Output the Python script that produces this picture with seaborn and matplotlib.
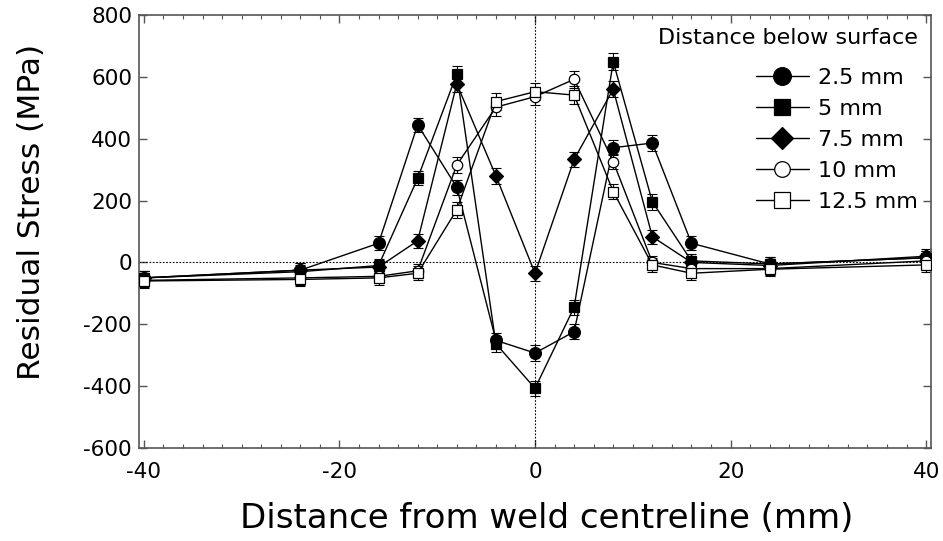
import numpy as np
import pandas as pd
import matplotlib
matplotlib.use("Agg")
import matplotlib.pyplot as plt
from matplotlib.ticker import MultipleLocator
import seaborn as sns

# Measurement positions across the weld (mm from centreline)
positions = [-40, -24, -16, -12, -8, -4, 0, 4, 8, 12, 16, 24, 40]

# Residual stress (MPa) at each depth below the surface
stress_2p5 = [-50, -25, 62, 445, 243, -252, -293, -224, 371, 386, 62, -5, 15]
stress_5 = [-50, -30, -10, 272, 609, -263, -407, -145, 649, 196, 5, -5, 15]
stress_7p5 = [-50, -25, -15, 70, 577, 280, -35, 333, 560, 83, 0, -10, 20]
stress_10 = [-58, -50, -45, -27, 315, 502, 536, 592, 326, 0, -20, -20, 5]
stress_12p5 = [-60, -55, -50, -35, 170, 520, 552, 541, 229, -8, -35, -22, -8]

# Measurement uncertainty (MPa)
err_2p5 = [22, 22, 22, 22, 25, 25, 25, 25, 25, 25, 22, 22, 22]
err_5 = [22, 22, 22, 22, 25, 25, 25, 25, 28, 25, 22, 22, 22]
err_7p5 = [22, 22, 22, 22, 25, 25, 25, 25, 25, 22, 22, 22, 22]
err_10 = [22, 22, 22, 22, 25, 28, 28, 28, 25, 22, 22, 22, 22]
err_12p5 = [22, 22, 22, 22, 25, 28, 28, 28, 25, 22, 22, 22, 22]

depth_labels = ["2.5 mm", "5 mm", "7.5 mm", "10 mm", "12.5 mm"]
series = [stress_2p5, stress_5, stress_7p5, stress_10, stress_12p5]
errors = [err_2p5, err_5, err_7p5, err_10, err_12p5]

frames = []
for lab, vals, errs in zip(depth_labels, series, errors):
    frames.append(pd.DataFrame({"x": positions, "stress": vals, "err": errs, "depth": lab}))
df = pd.concat(frames, ignore_index=True)

sns.set_theme(style="ticks")
plt.rcParams["font.family"] = ["DejaVu Sans"]
plt.rcParams["axes.unicode_minus"] = False
plt.rcParams["text.color"] = "black"
plt.rcParams["axes.labelcolor"] = "black"
plt.rcParams["xtick.labelcolor"] = "black"
plt.rcParams["ytick.labelcolor"] = "black"

fig = plt.figure(figsize=(9.43, 5.41), dpi=100)
ax = fig.add_axes([0.1474, 0.1719, 0.8399, 0.8004])

styles = {
    "2.5 mm": dict(marker="o", mfc="black", ms=8.5),
    "5 mm": dict(marker="s", mfc="black", ms=7.5),
    "7.5 mm": dict(marker="D", mfc="black", ms=7.5),
    "10 mm": dict(marker="o", mfc="white", ms=7.5),
    "12.5 mm": dict(marker="s", mfc="white", ms=7.5),
}

# reference lines through the origin
ax.axhline(0, color="black", lw=0.8, ls=(0, (1.5, 1.5)), zorder=1)
ax.axvline(0, color="black", lw=0.8, ls=(0, (1.5, 1.5)), zorder=1)

for lab in depth_labels:
    sub = df[df["depth"] == lab]
    st = styles[lab]
    ax.errorbar(sub["x"], sub["stress"], yerr=sub["err"], fmt="none",
                ecolor="black", elinewidth=0.8, capsize=3.5, capthick=0.8, zorder=2)
    sns.lineplot(data=sub, x="x", y="stress", ax=ax, color="black", lw=1.0,
                 marker=st["marker"], markersize=st["ms"],
                 markerfacecolor=st["mfc"], markeredgecolor="black",
                 markeredgewidth=0.9, label=lab, zorder=3)

ax.set_xlim(-40.5, 40.5)
ax.set_ylim(-600, 800)
ax.xaxis.set_major_locator(MultipleLocator(20))
ax.xaxis.set_minor_locator(MultipleLocator(2))
ax.yaxis.set_major_locator(MultipleLocator(200))

for s in ax.spines.values():
    s.set_visible(True)
    s.set_color("#555555")
    s.set_linewidth(1.2)

ax.tick_params(axis="both", which="major", direction="in", length=6, width=1,
               color="#555555", labelsize=15.5, top=True, right=True)
ax.tick_params(axis="x", which="minor", direction="in", length=3, width=0.8,
               color="#555555", top=True, bottom=True)
ax.tick_params(axis="x", which="major", pad=10)
ax.tick_params(axis="y", which="major", pad=5)

ax.set_xlabel("Distance from weld centreline (mm)", fontsize=24.5)
ax.set_ylabel("Residual Stress (MPa)", fontsize=22.5)
ax.xaxis.set_label_coords(0.515, -0.124)
ax.yaxis.set_label_coords(-0.117, 0.545)

leg = ax.legend(title="Distance below surface", loc="upper right", frameon=False,
                fontsize=16, title_fontsize=16, markerscale=1.5, handlelength=2.4,
                labelspacing=0.5, handletextpad=0.4, borderaxespad=0.2,
                alignment="right")
leg._legend_box.sep = 14

fig.savefig("out.png", dpi=100)
